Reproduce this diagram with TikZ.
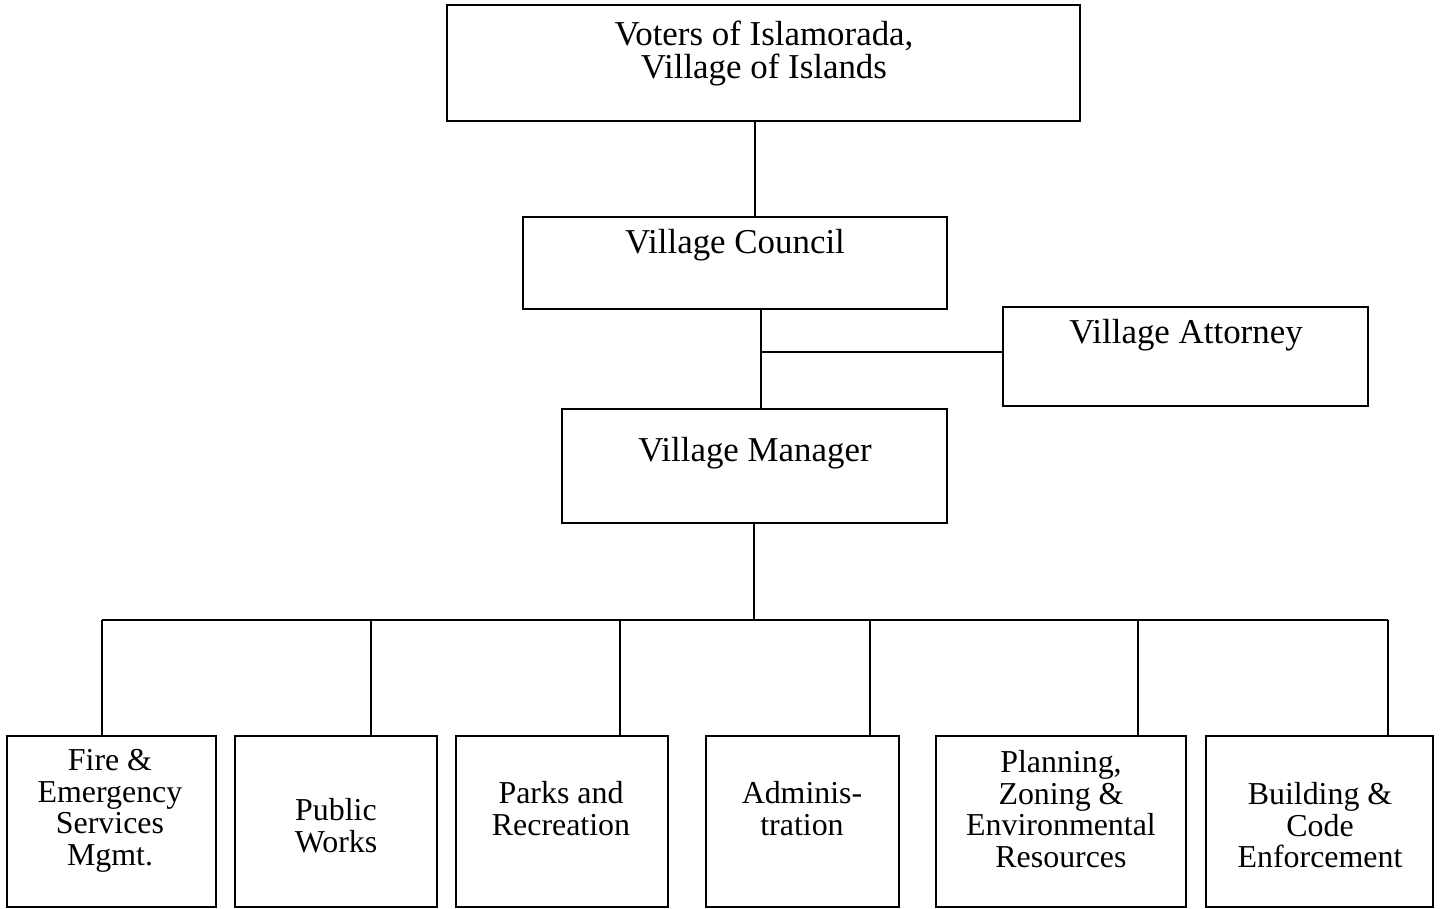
\documentclass[tikz,border=0pt]{standalone}
\usepackage{fontspec}
\setmainfont{Liberation Serif}
\begin{document}
\begin{tikzpicture}[x=1pt,y=-1pt,
  box/.style={draw, line width=2.8pt, inner sep=0pt, outer sep=0pt, anchor=north west},
  conn/.style={line width=2.1pt},
  big/.style={font=\fontsize{34.9}{33}\selectfont, align=center, inner sep=0pt, anchor=north},
  small/.style={font=\fontsize{31.9}{31.8}\selectfont, align=center, inner sep=0pt, anchor=north}]
\useasboundingbox (0,0) rectangle (1445,909);
\def\bs{\rule{0pt}{25pt}}
\def\ss{\rule{0pt}{23pt}}
% boxes
\node[box, minimum width=633pt, minimum height=116pt] (voters) at (447,5) {};
\node[box, minimum width=424pt, minimum height=92pt] (council) at (523,217) {};
\node[box, minimum width=365pt, minimum height=99pt] (attorney) at (1003,307) {};
\node[box, minimum width=385pt, minimum height=114pt] (manager) at (562,409) {};
\node[box, minimum width=209pt, minimum height=171pt] (fire) at (7,736) {};
\node[box, minimum width=202pt, minimum height=171pt] (public) at (235,736) {};
\node[box, minimum width=212pt, minimum height=171pt] (parks) at (456,736) {};
\node[box, minimum width=193pt, minimum height=171pt] (admin) at (706,736) {};
\node[box, minimum width=250pt, minimum height=171pt] (planning) at (936,736) {};
\node[box, minimum width=227pt, minimum height=171pt] (building) at (1206,736) {};
% labels
\node[big] (tvoters) at (764,{45-25}) {\bs Voters of Islamorada,\\Village of Islands};
\node[big] (tcouncil) at (735,{253-25}) {\bs Village Council};
\node[big] (tattorney) at (1186,{343-25}) {\bs Village Attorney};
\node[big] (tmanager) at (755,{461-25}) {\bs Village Manager};
\node[small] (tfire) at (110,{770-23}) {\ss Fire \&\\Emergency\\Services\\Mgmt.};
\node[small] (tpublic) at (336,{820-23}) {\ss Public\\Works};
\node[small] (tparks) at (561,{803-23}) {\ss Parks and\\Recreation};
\node[small] (tadmin) at (802,{803-23}) {\ss Adminis-\\tration};
\node[small] (tplanning) at (1061,{772-23}) {\ss Planning,\\Zoning \&\\Environmental\\Resources};
\node[small] (tbuilding) at (1320,{804-23}) {\ss Building \&\\Code\\Enforcement};
% connector coordinates
\coordinate (xa) at (755,0);
\coordinate (xb) at (761,0);
\coordinate (j1) at (761,352);
\coordinate (bus) at (754,620);
\coordinate (bl) at (102,620);
\coordinate (br) at (1388,620);
\coordinate (d1) at (102,620);
\coordinate (d2) at (371,620);
\coordinate (d3) at (620,620);
\coordinate (d4) at (870,620);
\coordinate (d5) at (1138,620);
\coordinate (d6) at (1388,620);
% connectors
\draw[conn] (voters.south -| xa) -- (council.north -| xa);
\draw[conn] (council.south -| xb) -- (manager.north -| xb);
\draw[conn] (j1) -- (j1 -| attorney.west);
\draw[conn] (manager.south -| bus) -- (bus);
\draw[conn] (bl) -- (br);
\draw[conn] (d1) -- (d1 |- fire.north);
\draw[conn] (d2) -- (d2 |- public.north);
\draw[conn] (d3) -- (d3 |- parks.north);
\draw[conn] (d4) -- (d4 |- admin.north);
\draw[conn] (d5) -- (d5 |- planning.north);
\draw[conn] (d6) -- (d6 |- building.north);
\end{tikzpicture}
\end{document}
